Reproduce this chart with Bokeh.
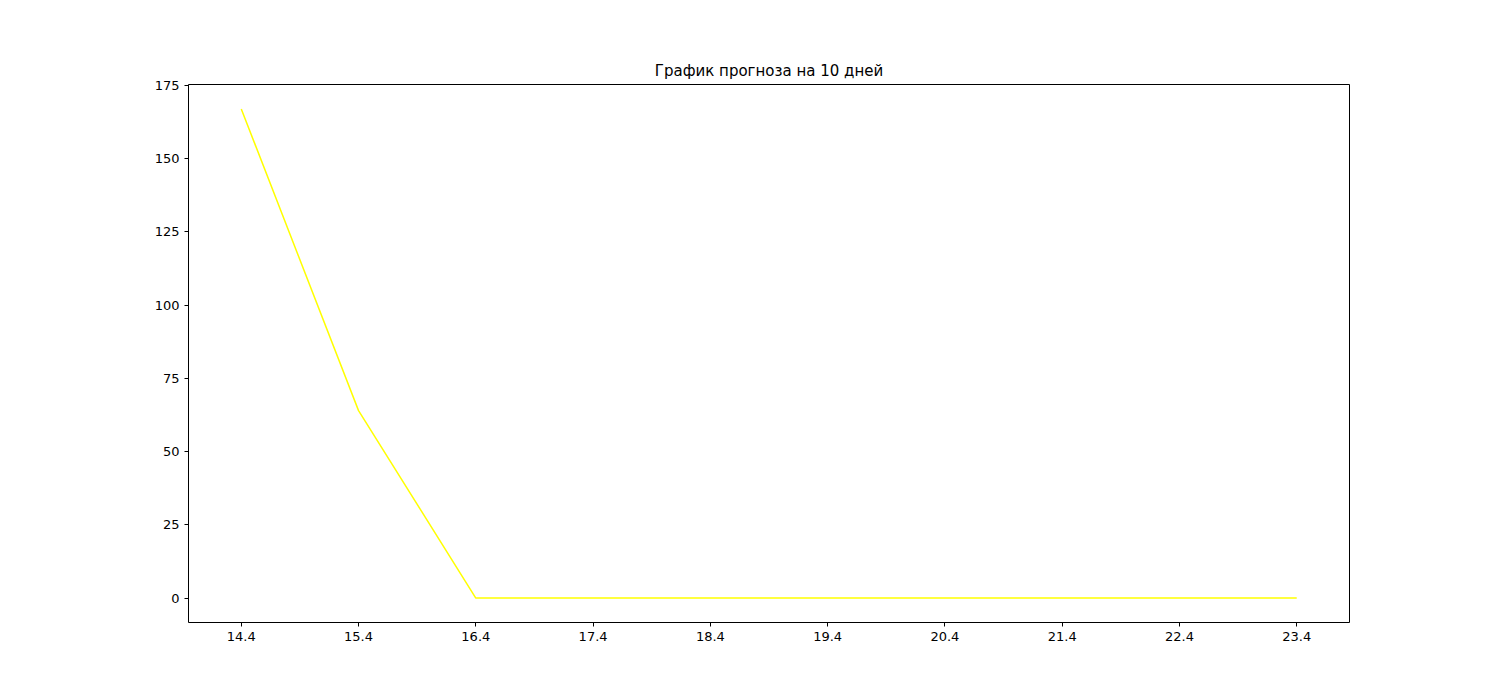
from bokeh.plotting import figure
from bokeh.models import Range1d, FixedTicker
from bokeh.embed import file_html
from bokeh.resources import INLINE

# forecast for 10 days
days = ["14.4", "15.4", "16.4", "17.4", "18.4", "19.4", "20.4", "21.4", "22.4", "23.4"]
forecast = [167, 64, 0, 0, 0, 0, 0, 0, 0, 0]
y_ticks = [0, 25, 50, 75, 100, 125, 150, 175]

xs = list(range(len(days)))
pad_x = (len(days) - 1) * 0.05
pad_y = (max(forecast) - min(forecast)) * 0.05

p = figure(
    width=1500, height=700,
    title="График прогноза на 10 дней",
    toolbar_location=None, tools="",
    output_backend="svg",
    x_range=Range1d(-pad_x, len(days) - 1 + pad_x),
    y_range=Range1d(min(forecast) - pad_y, max(forecast) + pad_y),
    min_border_left=188, min_border_right=151,
    min_border_top=84, min_border_bottom=78,
)
p.line(xs, forecast, line_color="yellow", line_width=1.5)

p.title.align = "center"
p.title.text_font = "DejaVu Sans"
p.title.text_font_size = "15px"
p.title.text_font_style = "normal"
p.title.text_color = "black"
p.title.offset = 0

p.xgrid.grid_line_color = None
p.ygrid.grid_line_color = None
p.outline_line_color = "black"
p.outline_line_width = 1

p.xaxis.ticker = FixedTicker(ticks=xs)
p.xaxis.major_label_overrides = {i: d for i, d in enumerate(days)}
p.yaxis.ticker = FixedTicker(ticks=y_ticks)
for ax in (p.xaxis, p.yaxis):
    ax.minor_tick_line_color = None
    ax.major_tick_in = 0
    ax.major_tick_out = 4
    ax.axis_line_color = None
    ax.major_label_text_font = "DejaVu Sans"
    ax.major_label_text_font_size = "13px"
    ax.major_label_text_color = "black"

open("out.html", "w").write(file_html(p, INLINE))
